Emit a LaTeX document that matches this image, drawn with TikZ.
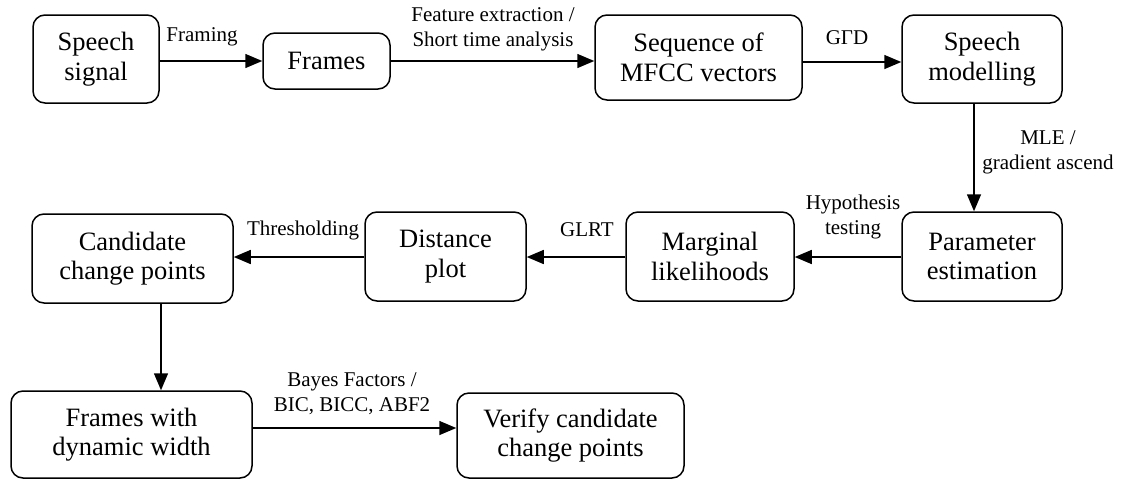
\documentclass[tikz,border=0pt]{standalone}
\usepackage{fontspec}
\setmainfont{Liberation Serif}
\usetikzlibrary{arrows.meta}
\begin{document}
\begin{tikzpicture}[x=1pt,y=-1pt,
  box/.style={draw, line width=1.5pt, rounded corners=12pt, align=center, inner sep=0pt, font=\fontsize{26.5}{29.5}\selectfont},
  arr/.style={line width=1.5pt, -{Triangle[length=17pt,width=14pt]}},
  lab/.style={font=\fontsize{21}{25}\selectfont, align=center, inner sep=0pt}]
\useasboundingbox (0,0) rectangle (1123,480);
\node[box, minimum width=126pt, minimum height=88pt] (sp) at (96,59) {Speech\\signal};
\node[box, minimum width=127pt, minimum height=56pt] (fr) at (326.5,61) {Frames};
\node[box, minimum width=207pt, minimum height=85pt] (mf) at (698.5,57.5) {Sequence of\\MFCC vectors};
\node[box, minimum width=160pt, minimum height=88pt] (sm) at (982,59) {Speech\\modelling};
\node[box, minimum width=160pt, minimum height=89pt] (pe) at (982,256.5) {Parameter\\estimation};
\node[box, minimum width=168pt, minimum height=89pt] (ml) at (710,256.5) {Marginal\\likelihoods};
\node[box, minimum width=161pt, minimum height=89pt] (dp) at (445.5,256.5) {Distance\\plot};
\node[box, minimum width=201pt, minimum height=89pt] (cc) at (132.5,258.5) {Candidate\\change points};
\node[box, minimum width=241pt, minimum height=87pt] (fd) at (131.5,434.5) {Frames with\\dynamic width};
\node[box, minimum width=227pt, minimum height=85pt] (ve) at (570.5,435.5) {Verify candidate\\change points};

\draw[arr] (sp.east|-fr.west) -- (fr.west);
\draw[arr] (fr.east) -- (mf.west|-fr.east);
\draw[arr] (mf.east|-0,62) -- (sm.west|-0,62);
\draw[arr] (sm.south-|974,0) -- (pe.north-|974,0);
\draw[arr] (pe.west|-0,257) -- (ml.east|-0,257);
\draw[arr] (ml.west|-0,257) -- (dp.east|-0,257);
\draw[arr] (dp.west|-0,257) -- (cc.east|-0,257);
\draw[arr] (cc.south-|161,0) -- (fd.north-|161,0);
\draw[arr] (fd.east|-0,428) -- (ve.west|-0,428);

\node[lab] (l1) at (202,37) {Framing};
\node[lab] (l2) at (493,29.5) {Feature extraction /\\Short time analysis};
\node[lab] (l3) at (847,38) {GΓD};
\node[lab] (l4) at (1048,152.5) {MLE /\\gradient ascend};
\node[lab] (l5) at (853,217) {Hypothesis\\testing};
\node[lab] (l6) at (587,230) {GLRT};
\node[lab] (l7) at (303,230) {Thresholding};
\node[lab] (l8) at (352,393.5) {Bayes Factors /\\BIC, BICC, ABF2};
\end{tikzpicture}
\end{document}
